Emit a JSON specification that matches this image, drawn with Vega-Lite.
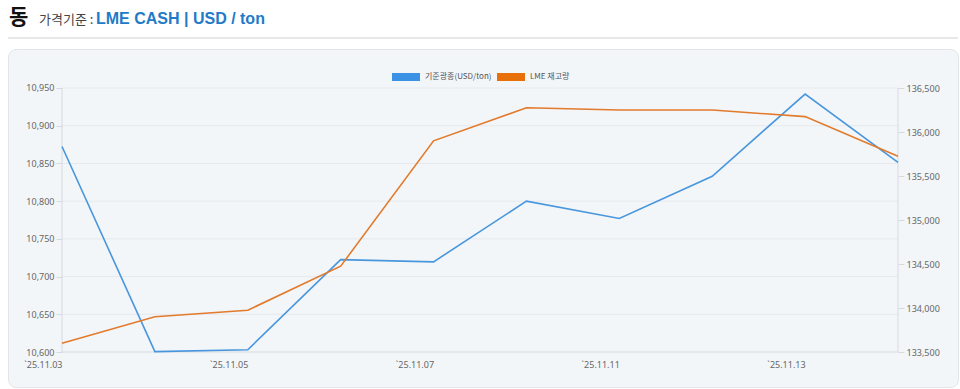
{
  "$schema": "https://vega.github.io/schema/vega-lite/v6.json",
  "background": "#ffffff",
  "padding": {"left": 7, "right": 3, "top": 7, "bottom": 3},
  "bounds": "flush",
  "spacing": 10,
  "config": {"view": {"stroke": null}, "font": "Noto Sans"},
  "datasets": {
    "prices": [
      {"date": "25.11.03", "price": 10872.5, "stock": 133600},
      {"date": "25.11.04", "price": 10600.5, "stock": 133900},
      {"date": "25.11.05", "price": 10603, "stock": 133975},
      {"date": "25.11.06", "price": 10722.5, "stock": 134475},
      {"date": "25.11.07", "price": 10719.5, "stock": 135900},
      {"date": "25.11.10", "price": 10800, "stock": 136275},
      {"date": "25.11.11", "price": 10777, "stock": 136250},
      {"date": "25.11.12", "price": 10833, "stock": 136250},
      {"date": "25.11.13", "price": 10942, "stock": 136175},
      {"date": "25.11.14", "price": 10851.5, "stock": 135725}
    ],
    "grid": [
      {"v": 10600}, {"v": 10650}, {"v": 10700}, {"v": 10750},
      {"v": 10800}, {"v": 10850}, {"v": 10900}, {"v": 10950}
    ]
  },
  "title": {
    "text": "가격기준 :",
    "font": "Noto Sans CJK KR",
    "fontSize": 13,
    "fontWeight": "normal",
    "color": "#444444",
    "anchor": "start",
    "frame": "group",
    "baseline": "alphabetic",
    "offset": 0,
    "dx": 31,
    "dy": 30
  },
  "vconcat": [
    {
      "width": 950,
      "height": 2,
      "view": {"fill": "#e8e8e8", "stroke": null},
      "title": {
        "text": "동",
        "font": "Noto Sans CJK KR",
        "fontSize": 21,
        "fontWeight": "bold",
        "color": "#111111",
        "anchor": "start",
        "frame": "group",
        "baseline": "alphabetic",
        "offset": 12,
        "dx": 1,
        "dy": 22
      },
      "data": {"values": [{}]},
      "mark": {"type": "point", "opacity": 0},
      "encoding": {}
    },
    {
      "width": 950,
      "height": 338,
      "view": {"fill": "#f3f6f9", "stroke": "#e1e5ea", "cornerRadius": 8},
      "title": {
        "text": "LME CASH | USD / ton",
        "font": "Liberation Sans",
        "fontSize": 16,
        "fontWeight": "bold",
        "color": "#1f7bc8",
        "anchor": "start",
        "frame": "group",
        "baseline": "alphabetic",
        "offset": 23,
        "dx": 88,
        "dy": 14
      },
      "layer": [
        {
          "layer": [
            {
              "data": {"name": "grid"},
              "mark": {"type": "rule", "strokeWidth": 1},
              "encoding": {
                "x": {"datum": "25.11.03", "type": "ordinal"},
                "x2": {"datum": "25.11.14"},
                "y": {"field": "v", "type": "quantitative", "title": null},
                "stroke": {"condition": {"test": "datum.v === 10600", "value": "#d5dae0"}, "value": "#e6e9ed"}
              }
            },
            {
              "data": {"values": [{}]},
              "mark": {"type": "rule", "stroke": "#d5dae0", "strokeWidth": 1},
              "encoding": {
                "x": {"datum": "25.11.03", "type": "ordinal"},
                "y": {"datum": 10600, "type": "quantitative"},
                "y2": {"datum": 10950}
              }
            },
            {
              "data": {"values": [{}]},
              "mark": {"type": "rule", "stroke": "#d5dae0", "strokeWidth": 1},
              "encoding": {
                "x": {"datum": "25.11.14", "type": "ordinal"},
                "y": {"datum": 10600, "type": "quantitative"},
                "y2": {"datum": 10950}
              }
            },
            {
              "data": {"name": "prices"},
              "mark": {"type": "line", "strokeWidth": 1.6},
              "encoding": {
                "x": {
                  "field": "date",
                  "type": "ordinal",
                  "title": null,
                  "scale": {"type": "point", "padding": 0.6137, "align": 0.4737},
                  "axis": {
                    "orient": "bottom",
                    "offset": -35,
                    "values": ["25.11.03", "25.11.05", "25.11.07", "25.11.11", "25.11.13"],
                    "labelExpr": "'`' + datum.label",
                    "labelAngle": 0,
                    "ticks": false,
                    "domain": false,
                    "grid": false,
                    "labelPadding": 12,
                    "labelFont": "Noto Sans",
                    "labelFontSize": 9,
                    "labelColor": "#666666"
                  }
                },
                "y": {
                  "field": "price",
                  "type": "quantitative",
                  "title": null,
                  "scale": {"domain": [10553.6, 11001.7], "nice": false, "zero": false},
                  "axis": {
                    "orient": "left",
                    "offset": -54,
                    "values": [10600, 10650, 10700, 10750, 10800, 10850, 10900, 10950],
                    "format": ",.0f",
                    "grid": false,
                    "domain": false,
                    "tickSize": 6,
                    "tickColor": "#d5dae0",
                    "labelPadding": 2,
                    "labelFont": "Noto Sans",
                    "labelFontSize": 9,
                    "labelColor": "#666666"
                  }
                },
                "color": {
                  "datum": "기준광종(USD/ton)",
                  "type": "nominal",
                  "scale": {"domain": ["기준광종(USD/ton)", "LME 재고량"], "range": ["#4896dd", "#e27a2c"]},
                  "legend": {
                    "orient": "none",
                    "legendX": 388,
                    "legendY": 30,
                    "direction": "horizontal",
                    "title": null,
                    "padding": 0,
                    "symbolType": "M-1.4,-0.4H1.4V0.4H-1.4Z",
                    "symbolSize": 400,
                    "symbolStrokeWidth": 0,
                    "labelFont": "Noto Sans CJK KR",
                    "labelFontSize": 8,
                    "labelColor": "#555555",
                    "labelOffset": 9,
                    "columnPadding": 5,
                    "encode": {
                      "symbols": {
                        "update": {
                          "fill": [
                            {"test": "datum.value === 'LME 재고량'", "value": "#e8700a"},
                            {"value": "#3b91e3"}
                          ],
                          "strokeWidth": {"value": 0}
                        }
                      }
                    }
                  }
                }
              }
            }
          ]
        },
        {
          "data": {"name": "prices"},
          "mark": {"type": "line", "strokeWidth": 1.6},
          "encoding": {
            "x": {"field": "date", "type": "ordinal", "title": null},
            "y": {
              "field": "stock",
              "type": "quantitative",
              "title": null,
              "scale": {"domain": [133102.3, 136943.2], "nice": false, "zero": false},
              "axis": {
                "orient": "right",
                "offset": -60,
                "values": [133500, 134000, 134500, 135000, 135500, 136000, 136500],
                "format": ",.0f",
                "grid": false,
                "domain": false,
                "tickSize": 6,
                "tickColor": "#d5dae0",
                "labelPadding": 2,
                "labelFont": "Noto Sans",
                "labelFontSize": 9,
                "labelColor": "#666666"
              }
            },
            "color": {"datum": "LME 재고량", "type": "nominal"}
          }
        }
      ],
      "resolve": {"scale": {"y": "independent"}}
    }
  ]
}
